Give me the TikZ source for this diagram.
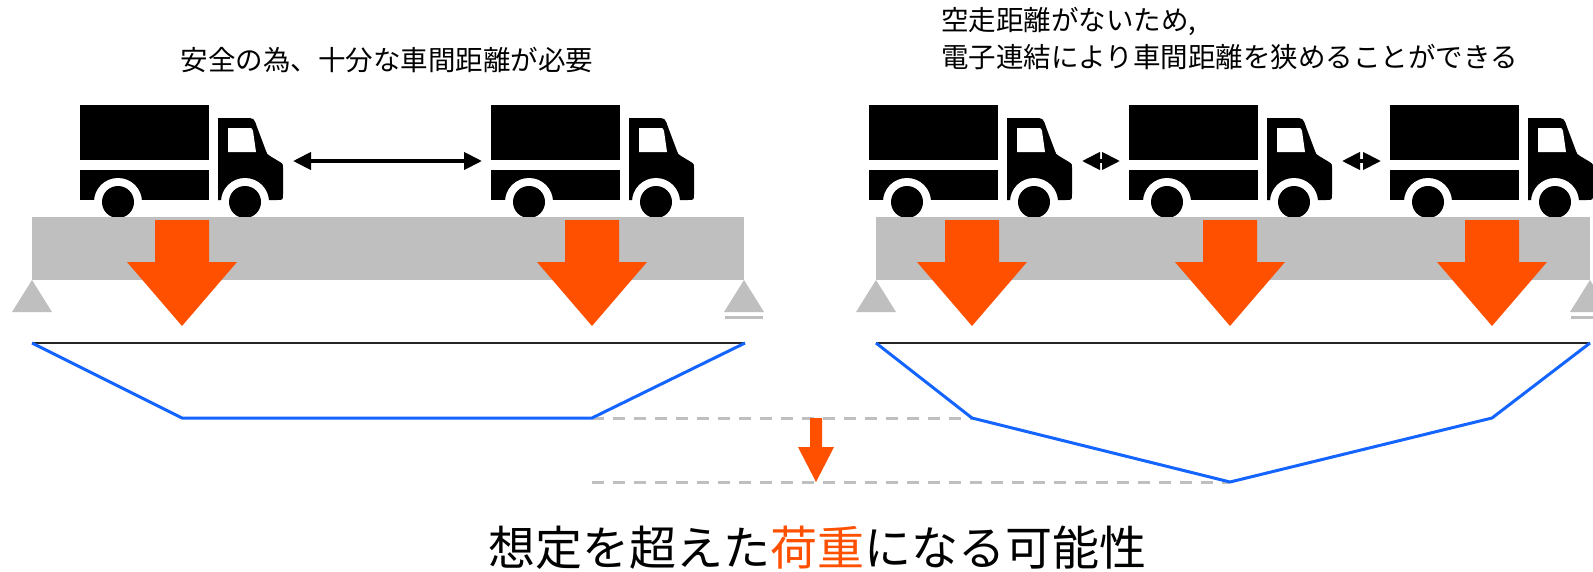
\documentclass[tikz,border=0pt]{standalone}
\usepackage{fontspec}
\setmainfont{Noto Sans CJK JP}
\usetikzlibrary{arrows.meta}
\definecolor{beamgray}{RGB}{191,191,191}
\definecolor{loadred}{RGB}{255,80,0}
\definecolor{bmblue}{RGB}{20,100,255}
\tikzset{
  truck/.pic={
    \fill (0,0) rectangle (129,55);
    \fill (0,65) rectangle (129,95);
    \fill (138,95) -- (138,13) -- (165,13) .. controls (174,13) .. (177,22) -- (186,46)
      .. controls (187,49) .. (190,51) -- (200,57) .. controls (203,59) .. (203,63)
      -- (203,89) .. controls (203,95) .. (197,95) -- cycle;
    \fill[white] (148,23) -- (169,23) .. controls (172,23) .. (173,26) -- (176,47) -- (148,47) -- cycle;
    \foreach \w in {38,165} {
      \fill[white] (\w,97) circle (24pt);
      \fill (\w,97) circle (16pt);
    }
    \coordinate (-front) at (213,56);
    \coordinate (-back) at (-9,56);
  },
  gap/.style={line width=4pt,{Triangle[length=18pt,width=17pt]}-{Triangle[length=18pt,width=17pt]}},
  bm/.style={line width=3pt,bmblue,line join=round},
  base/.style={line width=2pt,black!85},
  level/.style={line width=3pt,beamgray,dash pattern=on 12pt off 9pt},
  txt/.style={inner sep=0pt,font=\fontsize{27.5}{33}\selectfont}
}
\begin{document}
\begin{tikzpicture}[x=1pt,y=-1pt]
\useasboundingbox (0,0) rectangle (1593,571);
\foreach \n/\x in {a/80,b/491,c/869,d/1129,e/1390} \pic (\n) at (\x,105) {truck};
\draw[gap] (a-front) -- (b-back);
\draw[gap] (c-front) -- (d-back);
\draw[gap] (d-front) -- (e-back);
\fill[beamgray] (32,217) rectangle (744,280);
\fill[beamgray] (876,217) rectangle (1590,280);
\foreach \x in {32,744,876,1590} \fill[beamgray] (\x,280) -- (\x+20,312) -- (\x-20,312) -- cycle;
\foreach \x in {744,1590} \fill[beamgray] (\x-19,316) rectangle (\x+19,319);
\foreach \x in {182,592,972,1230,1492}
  \fill[loadred] (\x-27,220) -- (\x+27,220) -- (\x+27,262) -- (\x+55,262) -- (\x,326) -- (\x-55,262) -- (\x-27,262) -- cycle;
\draw[level] (592,418) -- (972,418);
\draw[level] (592,482) -- (1230,482);
\draw[base] (32,343) -- (745,343);
\draw[base] (876,343) -- (1590,343);
\draw[bm] (32,343) -- (182,418) -- (592,418) -- (745,343);
\draw[bm] (876,343) -- (972,418) -- (1230,482) -- (1492,418) -- (1590,343);
\fill[loadred] (810,418) -- (822,418) -- (822,447) -- (834,447) -- (816,482) -- (798,447) -- (810,447) -- cycle;
\node[txt] (need) at (387,60) {安全の為、十分な車間距離が必要};
\node[txt,anchor=west] (reason) at (941,21) {空走距離がないため,};
\node[txt,anchor=west] (platoon) at (941,57) {電子連結により車間距離を狭めることができる};
\node[inner sep=0pt,font=\fontsize{47}{56}\selectfont] (risk) at (817,548) {想定を超えた\textcolor{loadred}{荷重}になる可能性};
\end{tikzpicture}
\end{document}
